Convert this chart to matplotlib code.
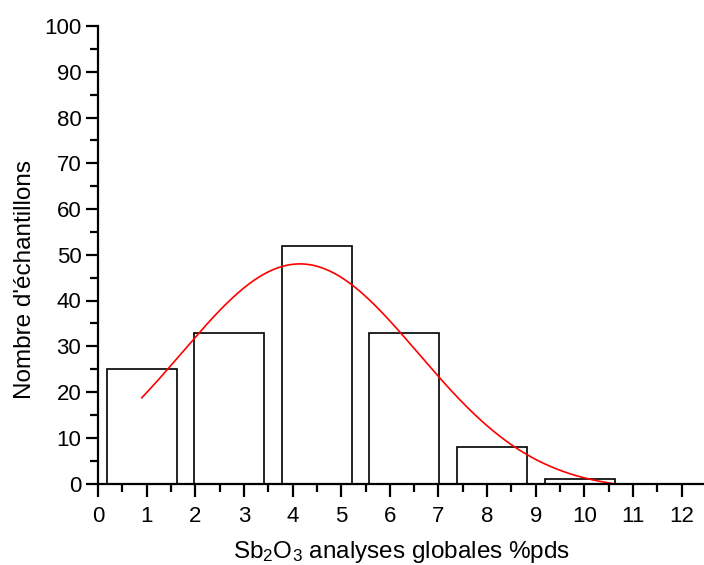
import matplotlib
matplotlib.use('Agg')
import matplotlib.pyplot as plt
import numpy as np

# histogram: bin centres (% pds) and counts
centres = [0.9, 2.7, 4.5, 6.3, 8.1, 9.9]
counts = [25, 33, 52, 33, 8, 1]
bar_width = 1.44

# Gaussian fit shown in red: y0 + A*exp(-(x-xc)^2 / (2 w^2))
fit_y0, fit_A, fit_xc, fit_w = -1.5, 49.5, 4.15, 2.43
fit_range = (0.9, 10.6)

xticks = list(range(0, 13))
yticks = list(range(0, 101, 10))

plt.rcParams.update({'font.family': 'Liberation Sans', 'font.size': 16,
                     'mathtext.fontset': 'custom',
                     'mathtext.rm': 'Liberation Sans',
                     'mathtext.default': 'regular'})

W, H = 704, 565
fig = plt.figure(figsize=(W / 100, H / 100), dpi=100)
ax = fig.add_axes([98 / W, 1 - 483.5 / H, (706 - 98) / W, (483.5 - 26) / H])

ax.bar(centres, counts, width=bar_width, facecolor='white',
       edgecolor='black', lw=1.2, zorder=2)

xs = np.linspace(*fit_range, 300)
ys = fit_y0 + fit_A * np.exp(-(xs - fit_xc) ** 2 / (2 * fit_w ** 2))
ax.plot(xs, ys, color='red', lw=1.2, zorder=3)

ax.set_xlim(0, 12.5)
ax.set_ylim(0, 100)
ax.set_xticks(xticks)
ax.set_yticks(yticks)
ax.set_xticks(np.arange(0.5, 12.5, 1), minor=True)
ax.set_yticks(np.arange(5, 100, 10), minor=True)
for s in ('top', 'right'):
    ax.spines[s].set_visible(False)
for s in ('left', 'bottom'):
    ax.spines[s].set_linewidth(1.6)
    ax.spines[s].set_zorder(4)
ax.tick_params(which='major', direction='out', length=9, width=1.6,
               labelsize=16)
ax.tick_params(axis='x', which='major', pad=7)
ax.tick_params(axis='y', which='major', pad=3)
ax.tick_params(which='minor', direction='out', length=5.5, width=1.6)

ax.set_xlabel(r'Sb$_2$O$_3$ analyses globales %pds', fontsize=17.5, labelpad=9)
ax.set_ylabel("Nombre d'échantillons", fontsize=17.5)
ax.yaxis.set_label_coords(-0.102, 0.445)

fig.savefig('out.png', dpi=100)
